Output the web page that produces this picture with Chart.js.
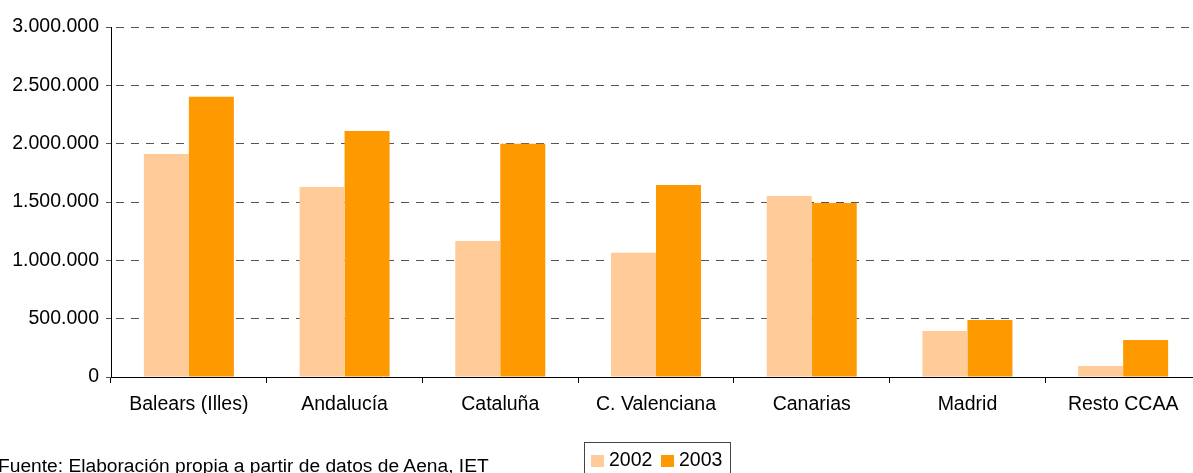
<!DOCTYPE html>
<html>
<head>
<meta charset="utf-8">
<script src="https://cdn.jsdelivr.net/npm/chart.js@4/dist/chart.umd.min.js"></script>
<style>
  html, body { margin: 0; padding: 0; background: #fff; overflow: hidden; }
  #wrap { position: relative; width: 1193px; height: 473px; overflow: hidden; }
  canvas { position: absolute; left: 0; top: 0; }
  #legend {
    position: absolute; left: 584px; top: 442px; width: 147px; height: 40px;
    border: 1px solid #444; box-sizing: border-box;
    font-family: "Liberation Sans", Arial, sans-serif; font-size: 19.5px; color: #000;
  }
  .li { position: absolute; top: 5px; line-height: 22px; }
  .sw { display: inline-block; width: 13px; height: 12px; margin-right: 5px; vertical-align: -1px; }
  #source {
    position: absolute; left: -2px; top: 455px; white-space: nowrap;
    font-family: "Liberation Sans", Arial, sans-serif; font-size: 19.2px; color: #000;
  }
</style>
</head>
<body>
<div id="wrap">
  <canvas id="c" width="1206" height="473"></canvas>
  <div id="legend">
    <span class="li" style="left:6px"><span class="sw" id="sw0"></span><span id="lt0"></span></span>
    <span class="li" style="left:76px"><span class="sw" id="sw1"></span><span id="lt1"></span></span>
  </div>
  <div id="source">Fuente: Elaboración propia a partir de datos de Aena, IET</div>
</div>
<script>
const categories = ["Balears (Illes)", "Andalucía", "Cataluña", "C. Valenciana", "Canarias", "Madrid", "Resto CCAA"];
const seriesNames = ["2002", "2003"];
const values2002 = [1911000, 1628000, 1166000, 1066000, 1551000, 394000, 94000];
const values2003 = [2402000, 2108000, 2000000, 1646000, 1491000, 489000, 317000];
const yTickValues = [0, 500000, 1000000, 1500000, 2000000, 2500000, 3000000];
const yTickLabels = ["0", "500.000", "1.000.000", "1.500.000", "2.000.000", "2.500.000", "3.000.000"];
const colors = ["#FFCC99", "#FF9900"];

document.getElementById('sw0').style.background = colors[0];
document.getElementById('sw1').style.background = colors[1];
document.getElementById('lt0').textContent = seriesNames[0];
document.getElementById('lt1').textContent = seriesNames[1];

Chart.defaults.font.family = '"Liberation Sans", Arial, sans-serif';
Chart.defaults.font.size = 19.5;
Chart.defaults.color = '#000';

new Chart(document.getElementById('c'), {
  type: 'bar',
  data: {
    labels: categories,
    datasets: [
      { label: seriesNames[0], data: values2002, backgroundColor: colors[0], borderWidth: 0, categoryPercentage: 0.578, barPercentage: 1.0 },
      { label: seriesNames[1], data: values2003, backgroundColor: colors[1], borderWidth: 0, categoryPercentage: 0.578, barPercentage: 1.0 }
    ]
  },
  options: {
    responsive: false,
    animation: false,
    devicePixelRatio: 1,
    layout: { padding: { top: 27, left: 0, right: 5, bottom: 0 } },
    plugins: { legend: { display: false }, tooltip: { enabled: false } },
    scales: {
      x: {
        offset: true,
        grid: { display: true, drawOnChartArea: false, drawTicks: true, tickLength: 6, color: '#000', offset: true },
        border: { display: true, color: '#000', width: 1 },
        ticks: { padding: 10, maxRotation: 0, autoSkip: false },
        afterFit: (s) => { s.height = 96; }
      },
      y: {
        min: 0, max: 3000000,
        afterBuildTicks: (s) => { s.ticks = yTickValues.map(v => ({ value: v })); },
        grid: { color: '#555', lineWidth: 1, tickLength: 5, tickColor: '#555' },
        border: { display: true, color: '#000', width: 1, dash: [8, 7], dashOffset: 11 },
        ticks: {
          padding: 7,
          callback: (v) => { const i = yTickValues.indexOf(v); return i >= 0 ? yTickLabels[i] : ''; }
        },
        afterFit: (s) => { s.width = 111; }
      }
    }
  }
});
</script>
</body>
</html>
